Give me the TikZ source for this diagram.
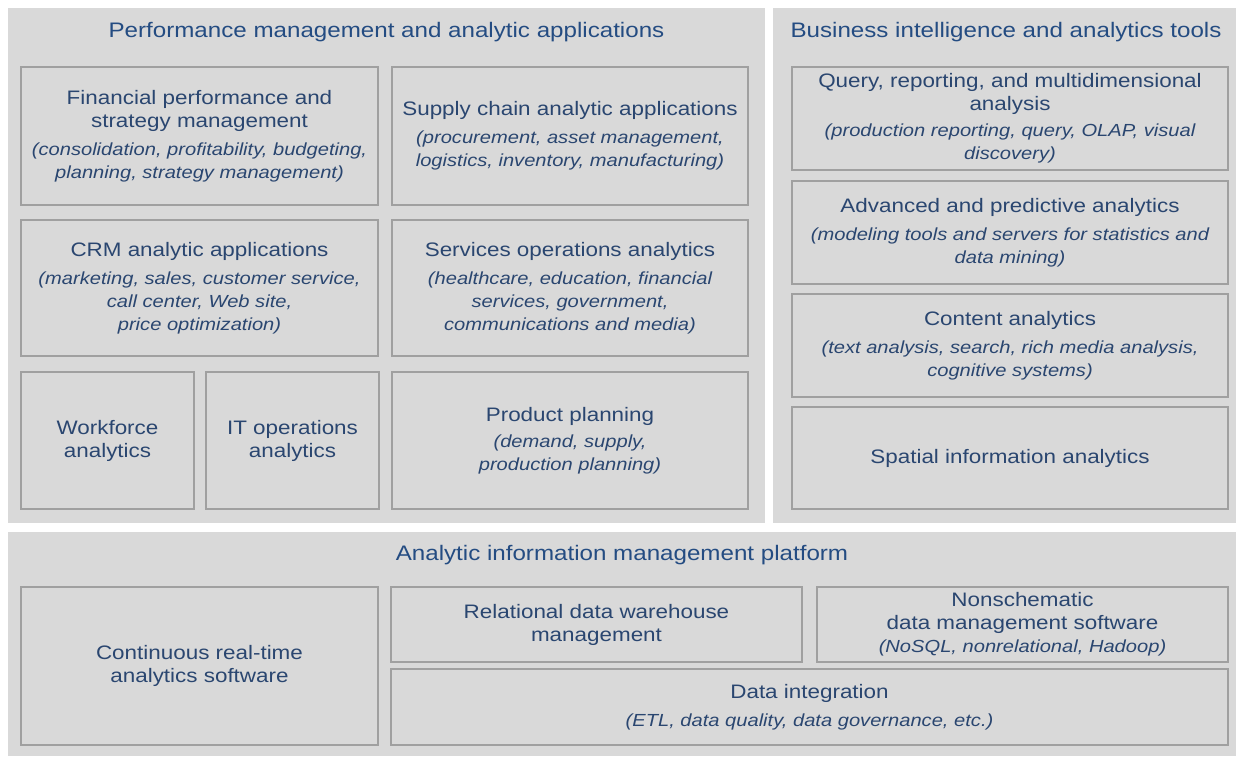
\documentclass[tikz,border=0pt]{standalone}
\usepackage{fontspec}
\setmainfont{Liberation Sans}[FakeStretch=1.15]
\usepackage{xcolor}
\usetikzlibrary{positioning}

\definecolor{panel}{RGB}{217,217,217}
\definecolor{cellline}{RGB}{160,160,160}
\definecolor{ink}{RGB}{42,70,112}
\definecolor{headink}{RGB}{36,76,130}

\newcommand\sub[1]{{\fontsize{17.5}{21}\selectfont\itshape #1}}

\begin{document}
\begin{tikzpicture}[
  x=1pt, y=-1pt,
  font=\fontsize{19.5}{23}\selectfont,
  head/.style={font=\fontsize{21}{25}\selectfont, text=headink, inner sep=0pt, anchor=base},
  cell/.style={draw=cellline, line width=1.5pt, fill=panel, align=center, text=ink, inner sep=0pt, outer sep=0pt}
]
  \useasboundingbox (0,0) rectangle (1238,756);

  % backgrounds
  \fill[panel] (8,8) rectangle (765,523);
  \fill[panel] (773,8) rectangle (1236,523);
  \fill[panel] (8,532) rectangle (1236,756);

  \node[head] (perfhead) at (386.5,37) {Performance management and analytic applications};
  \node[head] (bihead) at (1006,37) {Business intelligence and analytics tools};
  \node[head] (aimhead) at (622,560) {Analytic information management platform};

  % performance management and analytic applications
  \node[cell, minimum width=357pt, minimum height=138pt] (fin) at (199.5,136)
    {Financial performance and\\strategy management\\[5pt]\sub{(consolidation, profitability, budgeting,}\\\sub{planning, strategy management)}};
  \node[cell, minimum width=356pt, minimum height=138pt, right=14pt of fin] (supply)
    {Supply chain analytic applications\\[5pt]\sub{(procurement, asset management,}\\\sub{logistics, inventory, manufacturing)}};
  \node[cell, minimum width=357pt, minimum height=136pt, below=15pt of fin] (crm)
    {CRM analytic applications\\[5pt]\sub{(marketing, sales, customer service,}\\\sub{call center, Web site,}\\\sub{price optimization)}};
  \node[cell, minimum width=356pt, minimum height=136pt, below=15pt of supply] (serv)
    {Services operations analytics\\[5pt]\sub{(healthcare, education, financial}\\\sub{services, government,}\\\sub{communications and media)}};
  \node[cell, minimum width=173pt, minimum height=137pt, below right=16pt and 0pt of crm.south west] (work)
    {Workforce\\analytics};
  \node[cell, minimum width=173pt, minimum height=137pt, right=12pt of work] (itops)
    {IT operations\\analytics};
  \node[cell, minimum width=356pt, minimum height=137pt, below=16pt of serv] (prod)
    {Product planning\\[3pt]\sub{(demand, supply,}\\\sub{production planning)}};

  % business intelligence and analytics tools
  \node[cell, minimum width=436pt, minimum height=103pt] (query) at (1010,118.5)
    {Query, reporting, and multidimensional\\analysis\\[3pt]\sub{(production reporting, query, OLAP, visual}\\\sub{discovery)}};
  \node[cell, minimum width=436pt, minimum height=103pt, below=11pt of query] (adv)
    {Advanced and predictive analytics\\[5pt]\sub{(modeling tools and servers for statistics and}\\\sub{data mining)}};
  \node[cell, minimum width=436pt, minimum height=103pt, below=10pt of adv] (content)
    {Content analytics\\[5pt]\sub{(text analysis, search, rich media analysis,}\\\sub{cognitive systems)}};
  \node[cell, minimum width=436pt, minimum height=102pt, below=10pt of content] (spatial)
    {Spatial information analytics};

  % analytic information management platform
  \node[cell, minimum width=357pt, minimum height=158pt] (cont) at (199.5,666)
    {Continuous real-time\\analytics software};
  \node[cell, minimum width=411pt, minimum height=75pt, anchor=north west] (rel) at (391,587)
    {Relational data warehouse\\management};
  \node[cell, minimum width=411pt, minimum height=75pt, right=15pt of rel] (nosql)
    {Nonschematic\\data management software\\\sub{(NoSQL, nonrelational, Hadoop)}};
  \node[cell, minimum width=837pt, minimum height=76pt, below right=7pt and 0pt of rel.south west] (integ)
    {Data integration\\[5pt]\sub{(ETL, data quality, data governance, etc.)}};
\end{tikzpicture}
\end{document}
